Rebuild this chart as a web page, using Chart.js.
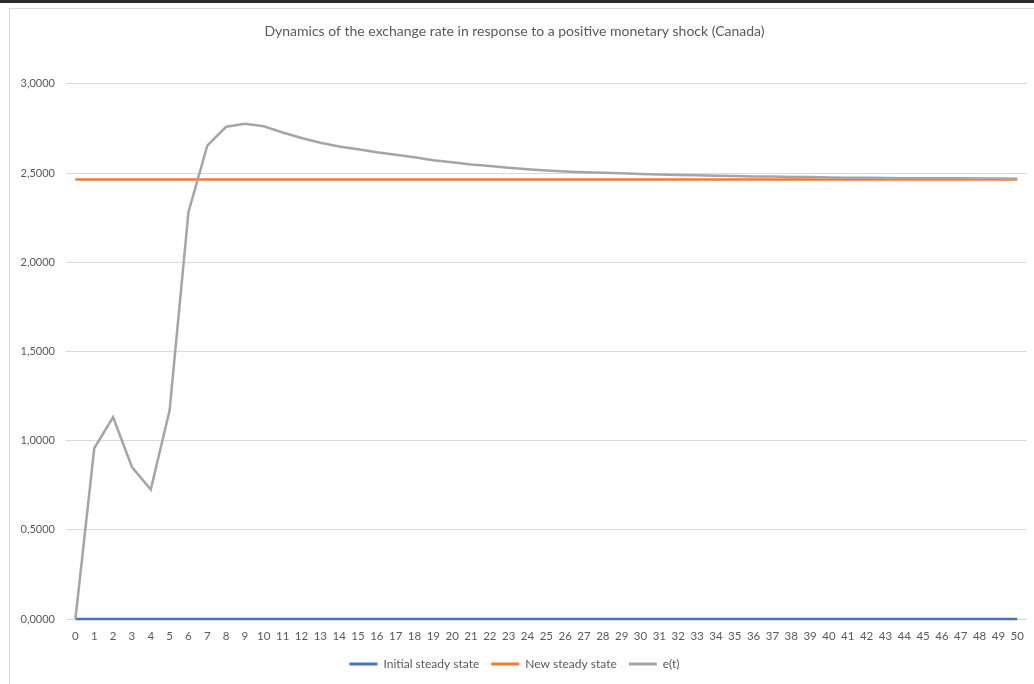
<!DOCTYPE html>
<html>
<head>
<meta charset="utf-8">
<script src="https://cdn.jsdelivr.net/npm/chart.js@4"></script>
<style>
  html, body { margin: 0; padding: 0; background: #ffffff; }
  #wrap { position: relative; width: 1034px; height: 684px; overflow: hidden; }
  #topbar { position: absolute; left: 0; top: 0; width: 1034px; height: 3px; background: #2b2b2b; }
  #frame { position: absolute; left: 9px; top: 8px; width: 1030px; height: 680px;
           border-left: 1px solid #d9d9d9; border-top: 1px solid #d9d9d9; box-sizing: border-box; }
  canvas { position: absolute; left: 0; top: 0; }
</style>
</head>
<body>
<div id="wrap">
  <div id="topbar"></div>
  <div id="frame"></div>
  <canvas id="chart" width="1034" height="684"></canvas>
</div>
<script>
// Periods after the shock
const periods = Array.from({ length: 51 }, (_, i) => String(i));

// Steady-state levels of the exchange rate
const initialSteadyState = 0;
const newSteadyState = 2.463;

// Simulated path of the exchange rate e(t), t = 0..50
const exchangeRate = [
  0.000, 0.957, 1.132, 0.852, 0.726, 1.170, 2.280, 2.653, 2.759, 2.776,
  2.762, 2.727, 2.696, 2.670, 2.649, 2.633, 2.616, 2.602, 2.588, 2.572,
  2.560, 2.548, 2.539, 2.529, 2.521, 2.514, 2.508, 2.504, 2.501, 2.498,
  2.494, 2.491, 2.489, 2.487, 2.485, 2.483, 2.481, 2.480, 2.478, 2.477,
  2.475, 2.474, 2.473, 2.472, 2.471, 2.471, 2.470, 2.470, 2.469, 2.469,
  2.468
];

// Y axis tick labels (decimal comma)
const yTicks = [0, 0.5, 1, 1.5, 2, 2.5, 3];
const formatTick = v => v.toFixed(4).replace('.', ',');

const initialLine = periods.map(() => initialSteadyState);
const newLine = periods.map(() => newSteadyState);

const textColor = '#595959';
const fontFamily = 'Lato, "Open Sans", sans-serif';

new Chart(document.getElementById('chart'), {
  type: 'line',
  data: {
    labels: periods,
    datasets: [
      { label: 'Initial steady state', data: initialLine, borderColor: '#4472C4',
        backgroundColor: '#4472C4', borderWidth: 2.5, pointRadius: 0, order: 3, clip: 6 },
      { label: 'New steady state', data: newLine, borderColor: '#ED7D31',
        backgroundColor: '#ED7D31', borderWidth: 2.5, pointRadius: 0, order: 2, clip: 6 },
      { label: 'e(t)', data: exchangeRate, borderColor: '#A5A5A5',
        backgroundColor: '#A5A5A5', borderWidth: 2.5, pointRadius: 0, order: 1,
        tension: 0, clip: 6 }
    ]
  },
  options: {
    responsive: false,
    animation: false,
    layout: { padding: { left: 0, right: 5, top: 0, bottom: 4 } },
    plugins: {
      title: {
        display: true,
        text: 'Dynamics of the exchange rate in response to a positive monetary shock (Canada)',
        color: textColor,
        font: { family: fontFamily, size: 14, weight: 'normal' },
        padding: { top: 23, bottom: 44 }
      },
      legend: {
        position: 'bottom',
        labels: {
          color: textColor,
          font: { family: fontFamily, size: 12 },
          boxWidth: 28,
          boxHeight: 3,
          padding: 12,
          generateLabels(chart) {
            return chart.data.datasets.map((ds, i) => ({
              text: ds.label,
              fillStyle: ds.borderColor,
              strokeStyle: ds.borderColor,
              lineWidth: 0,
              fontColor: textColor,
              hidden: false,
              datasetIndex: i
            }));
          }
        }
      },
      tooltip: { enabled: false }
    },
    scales: {
      x: {
        offset: true,
        grid: { display: false, drawTicks: false, tickLength: 0 },
        border: { display: false },
        afterFit(scale) { scale.height = 27; },
        ticks: {
          color: textColor,
          font: { family: fontFamily, size: 11.5 },
          maxRotation: 0,
          autoSkip: false,
          padding: 10
        }
      },
      y: {
        min: 0,
        max: 3,
        afterBuildTicks(scale) { scale.ticks = yTicks.map(v => ({ value: v })); },
        afterFit(scale) { scale.width = 66; },
        grid: { color: '#d9d9d9', lineWidth: 1, drawTicks: false },
        border: { display: false },
        ticks: {
          color: textColor,
          font: { family: fontFamily, size: 11 },
          padding: 11,
          callback: v => formatTick(v)
        }
      }
    }
  }
});
</script>
</body>
</html>
